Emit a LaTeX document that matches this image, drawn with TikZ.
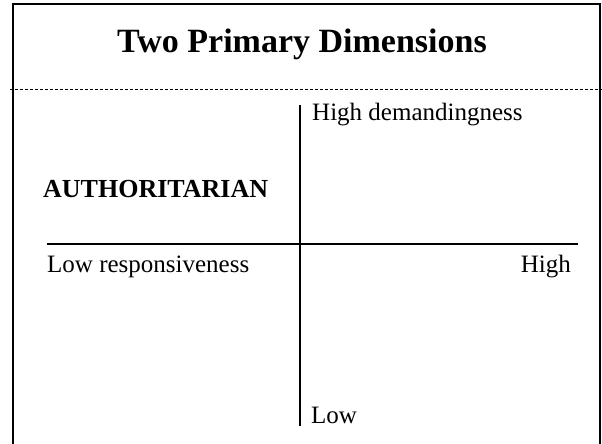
\documentclass[tikz,border=0pt]{standalone}
\usepackage{fontspec}
\setmainfont{Liberation Serif}
\usetikzlibrary{positioning}

\begin{document}
\begin{tikzpicture}[
    x=1pt, y=1pt,
    lbl/.style={
	inner sep=0pt,
	font=\fontsize{25}{29}\selectfont
    },
    axis/.style={line width=2pt},
    frame/.style={line width=2pt}
]
	\useasboundingbox (0,0) rectangle (602,444);

	% frame
	\coordinate (fbl) at (13,0);
	\coordinate (ftl) at (13,440);
	\coordinate (ftr) at (600,440);
	\coordinate (fbr) at (600,0);
	\draw[frame] (fbl) -- (ftl) -- (ftr) -- (fbr);

	% title
	\node[inner sep=0pt, anchor=base, font=\fontsize{34}{40}\selectfont\bfseries]
	    (title) at (302,391) {Two Primary Dimensions};
	\coordinate (sepl) at (10,355);
	\coordinate (sepr) at (602,355);
	\draw[dash pattern=on 3pt off 2pt, line width=0.7pt] (sepl) -- (sepr);

	% axes
	\coordinate (vtop) at (300,339);
	\coordinate (vbot) at (300,18);
	\coordinate (hleft) at (47,200);
	\coordinate (hright) at (578,200);
	\draw[axis] (vtop) -- (vbot);
	\draw[axis] (hleft) -- (hright);

	% labels
	\node[lbl, anchor=base west] (demand) at (312,323) {High demandingness};
	\node[lbl, anchor=base west, font=\fontsize{26}{30}\selectfont\bfseries]
	    (auth) at (43,246) {AUTHORITARIAN};
	\node[lbl, anchor=base west] (lowresp) at (47,171) {Low responsiveness};
	\node[lbl, anchor=base east] (highresp) at (571,171) {High};
	\node[lbl, anchor=base west] (lowdemand) at (311,20) {Low};
\end{tikzpicture}
\end{document}
